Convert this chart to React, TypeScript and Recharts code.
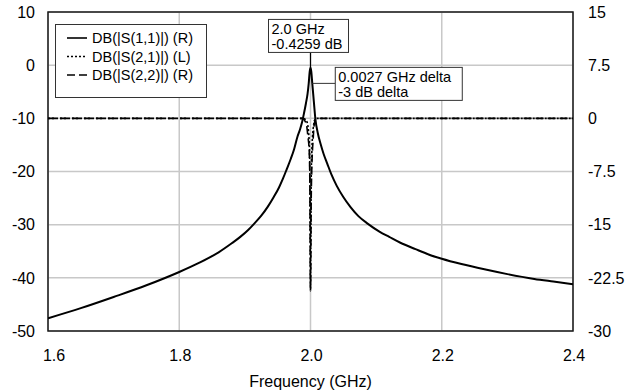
import React from 'react';
import { LineChart, Line, XAxis, YAxis, CartesianGrid, ReferenceArea, ReferenceDot, Legend } from 'recharts';

const FONT = '"Liberation Sans", Arial, Helvetica, sans-serif';

// DB(|S(1,1)|) - solid resonance curve (plotted against the left scale)
const s11Freq = [
  1.6, 1.65, 1.7, 1.75, 1.8, 1.83, 1.86, 1.88, 1.893, 1.905, 1.915, 1.925, 1.935, 1.944, 1.952, 1.958,
  1.964, 1.97, 1.975, 1.98, 1.984, 1.987, 1.99, 1.993, 1.9955, 1.9973, 1.9987, 2.0,
  2.0013, 2.0027, 2.005, 2.0075, 2.011, 2.0153, 2.02, 2.0255, 2.032, 2.04, 2.05, 2.061, 2.073, 2.087,
  2.105, 2.12, 2.137, 2.16, 2.18, 2.2, 2.23, 2.265, 2.3, 2.341, 2.37, 2.4,
];
const s11Db = [
  -47.6, -45.7, -43.6, -41.4, -38.9, -37.2, -35.2, -33.5, -32.3, -31.0, -29.7, -28.3, -26.6, -24.8, -23.0, -21.35,
  -19.5, -17.6, -15.8, -13.5, -12.1, -10.8, -9.1, -7.2, -5.4, -3.4, -1.3, -0.4259,
  -1.3, -3.4259, -6.7, -10.2, -12.7, -14.8, -16.7, -18.5, -20.6, -22.7, -24.8, -26.7, -28.4, -29.8,
  -31.3, -32.3, -33.4, -34.6, -35.6, -36.4, -37.4, -38.4, -39.3, -40.2, -40.7, -41.2,
];

// DB(|S(2,1)|) - dotted, left scale
const s21Freq = [1.6, 1.989, 1.992, 1.995, 1.997, 1.998, 1.999, 2.0, 2.001, 2.002, 2.003, 2.004, 2.005, 2.006, 2.008, 2.01, 2.4];
const s21Db = [-10, -10, -10.2, -10.8, -12.5, -14.5, -20, -42.5, -22, -16.5, -13.5, -12, -11, -10.4, -10.1, -10, -10];

// DB(|S(2,2)|) - dashed, right scale
const s22Freq = [1.6, 1.988, 1.991, 1.994, 1.996, 1.998, 1.999, 2.0, 2.001, 2.002, 2.003, 2.004, 2.005, 2.006, 2.008, 2.01, 2.4];
const s22Db = [0, 0, -0.3, -1.0, -2.5, -4.5, -9, -24, -12, -7, -4.5, -3, -1.5, -0.6, -0.1, 0, 0];

const xTicks = [1.6, 1.8, 2.0, 2.2, 2.4];
const leftTicks = [-50, -40, -30, -20, -10, 0, 10];
const rightTicks = [-30, -22.5, -15, -7.5, 0, 7.5, 15];

const legendItems = [
  { name: 'DB(|S(1,1)|) (R)', dash: undefined as string | undefined },
  { name: 'DB(|S(2,1)|) (L)', dash: '2 2' },
  { name: 'DB(|S(2,2)|) (R)', dash: '8 4' },
];

const peakMarker = { freq: 2.0, db: -0.4259 };
const deltaMarker = { freq: 2.0027, db: -3.4259, df: 0.0027, ddb: -3 };

const zip = (xs: number[], ys: number[]) => xs.map((x, i) => ({ x, y: ys[i] }));

const s11Data = zip(s11Freq, s11Db);
const s21Data = zip(s21Freq, s21Db);
const s22Data = zip(s22Freq, s22Db);

const XTick = (props: any) => {
  const { x, y, payload, index } = props;
  return (
    <text x={x + (index === 0 ? 6 : 1)} y={y} dy="0.71em" textAnchor="middle" fontSize={16} fontFamily={FONT} fill="#000">
      {Number(payload.value).toFixed(1)}
    </text>
  );
};

const boxText = { fontSize: 14.5, fontFamily: FONT, fill: '#000' };

const PeakBox = (props: any) => {
  const { cx, cy } = props;
  const left = cx - 42;
  const top = cy - 48;
  return (
    <g>
      <line x1={cx} y1={top + 33} x2={cx} y2={cy} stroke="#000" strokeWidth={1.2} />
      <rect x={left} y={top} width={80} height={33} fill="#fff" stroke="#333" strokeWidth={1} />
      <text x={left + 3} y={top + 14.5} {...boxText}>{peakMarker.freq.toFixed(1)} GHz</text>
      <text x={left + 3} y={top + 29.5} {...boxText}>{peakMarker.db} dB</text>
    </g>
  );
};

const DeltaBox = (props: any) => {
  const { cx, cy } = props;
  const left = cx + 23;
  const top = cy - 16;
  return (
    <g>
      <line x1={cx} y1={cy} x2={left} y2={cy} stroke="#333" strokeWidth={1} />
      <rect x={left} y={top} width={127} height={33} fill="#fff" stroke="#333" strokeWidth={1} />
      <text x={left + 3} y={top + 14.5} {...boxText}>{deltaMarker.df} GHz delta</text>
      <text x={left + 3} y={top + 29.5} {...boxText}>{deltaMarker.ddb} dB delta</text>
    </g>
  );
};

const LegendBox = () => (
  <div style={{ width: 152, height: 74, border: '1px solid #333', background: '#fff', boxSizing: 'border-box' }}>
    <svg width={150} height={72} style={{ display: 'block' }}>
      {legendItems.map((item, i) => {
        const cy = 13 + i * 18.5;
        return (
          <g key={item.name}>
            <line x1={11} y1={cy} x2={31} y2={cy} stroke="#000" strokeWidth={1.6} strokeDasharray={item.dash} />
            <text x={36} y={cy} dy="0.36em" fontSize={14.5} fontFamily={FONT} fill="#000">{item.name}</text>
          </g>
        );
      })}
    </svg>
  </div>
);

export default function App() {
  return (
    <div style={{ position: 'absolute', left: 0, top: 0, width: 642, height: 392, background: '#fff', fontFamily: FONT }}>
      <LineChart width={642} height={392} margin={{ top: 12, right: 0, bottom: 0, left: 0 }}>
        <CartesianGrid yAxisId="left" stroke="#c8c8c8" strokeWidth={1.5} />
        <XAxis
          dataKey="x"
          type="number"
          domain={[1.6, 2.4]}
          ticks={xTicks}
          allowDataOverflow
          height={61}
          axisLine={false}
          tickLine={false}
          tickSize={0}
          tickMargin={19}
          tick={<XTick />}
          label={{ value: 'Frequency (GHz)', position: 'insideBottom', offset: 5, fontSize: 16, fill: '#000', fontFamily: FONT }}
        />
        <YAxis
          yAxisId="left"
          type="number"
          domain={[-50, 10]}
          ticks={leftTicks}
          allowDataOverflow
          width={48}
          axisLine={false}
          tickLine={false}
          tickSize={0}
          tickMargin={13}
          tick={{ fontSize: 16, fill: '#000', fontFamily: FONT }}
        />
        <YAxis
          yAxisId="right"
          orientation="right"
          type="number"
          domain={[-30, 15]}
          ticks={rightTicks}
          allowDataOverflow
          width={69}
          axisLine={false}
          tickLine={false}
          tickSize={0}
          tickMargin={15}
          tick={{ fontSize: 16, fill: '#000', fontFamily: FONT, textAnchor: 'start' }}
        />
        <Legend
          verticalAlign="middle"
          layout="horizontal"
          wrapperStyle={{ position: 'absolute', left: 55, top: 24, width: 152, height: 74 }}
          content={() => <LegendBox />}
        />
        <Line yAxisId="right" type="monotone" data={s22Data} dataKey="y" stroke="#000" strokeWidth={1.6} strokeDasharray="8 4" dot={false} isAnimationActive={false} />
        <Line yAxisId="left" type="monotone" data={s21Data} dataKey="y" stroke="#000" strokeWidth={1.6} strokeDasharray="2 2" dot={false} isAnimationActive={false} />
        <Line yAxisId="left" type="monotone" data={s11Data} dataKey="y" stroke="#000" strokeWidth={2} dot={false} isAnimationActive={false} />
        <ReferenceArea yAxisId="left" x1={1.6} x2={2.4} y1={-50} y2={10} fill="none" stroke="#1a1a1a" strokeWidth={1.5} ifOverflow="visible" />
        <ReferenceDot yAxisId="left" x={peakMarker.freq} y={peakMarker.db} r={0} ifOverflow="visible" shape={(p: any) => <PeakBox {...p} />} />
        <ReferenceDot yAxisId="left" x={deltaMarker.freq} y={deltaMarker.db} r={0} ifOverflow="visible" shape={(p: any) => <DeltaBox {...p} />} />
      </LineChart>
    </div>
  );
}
